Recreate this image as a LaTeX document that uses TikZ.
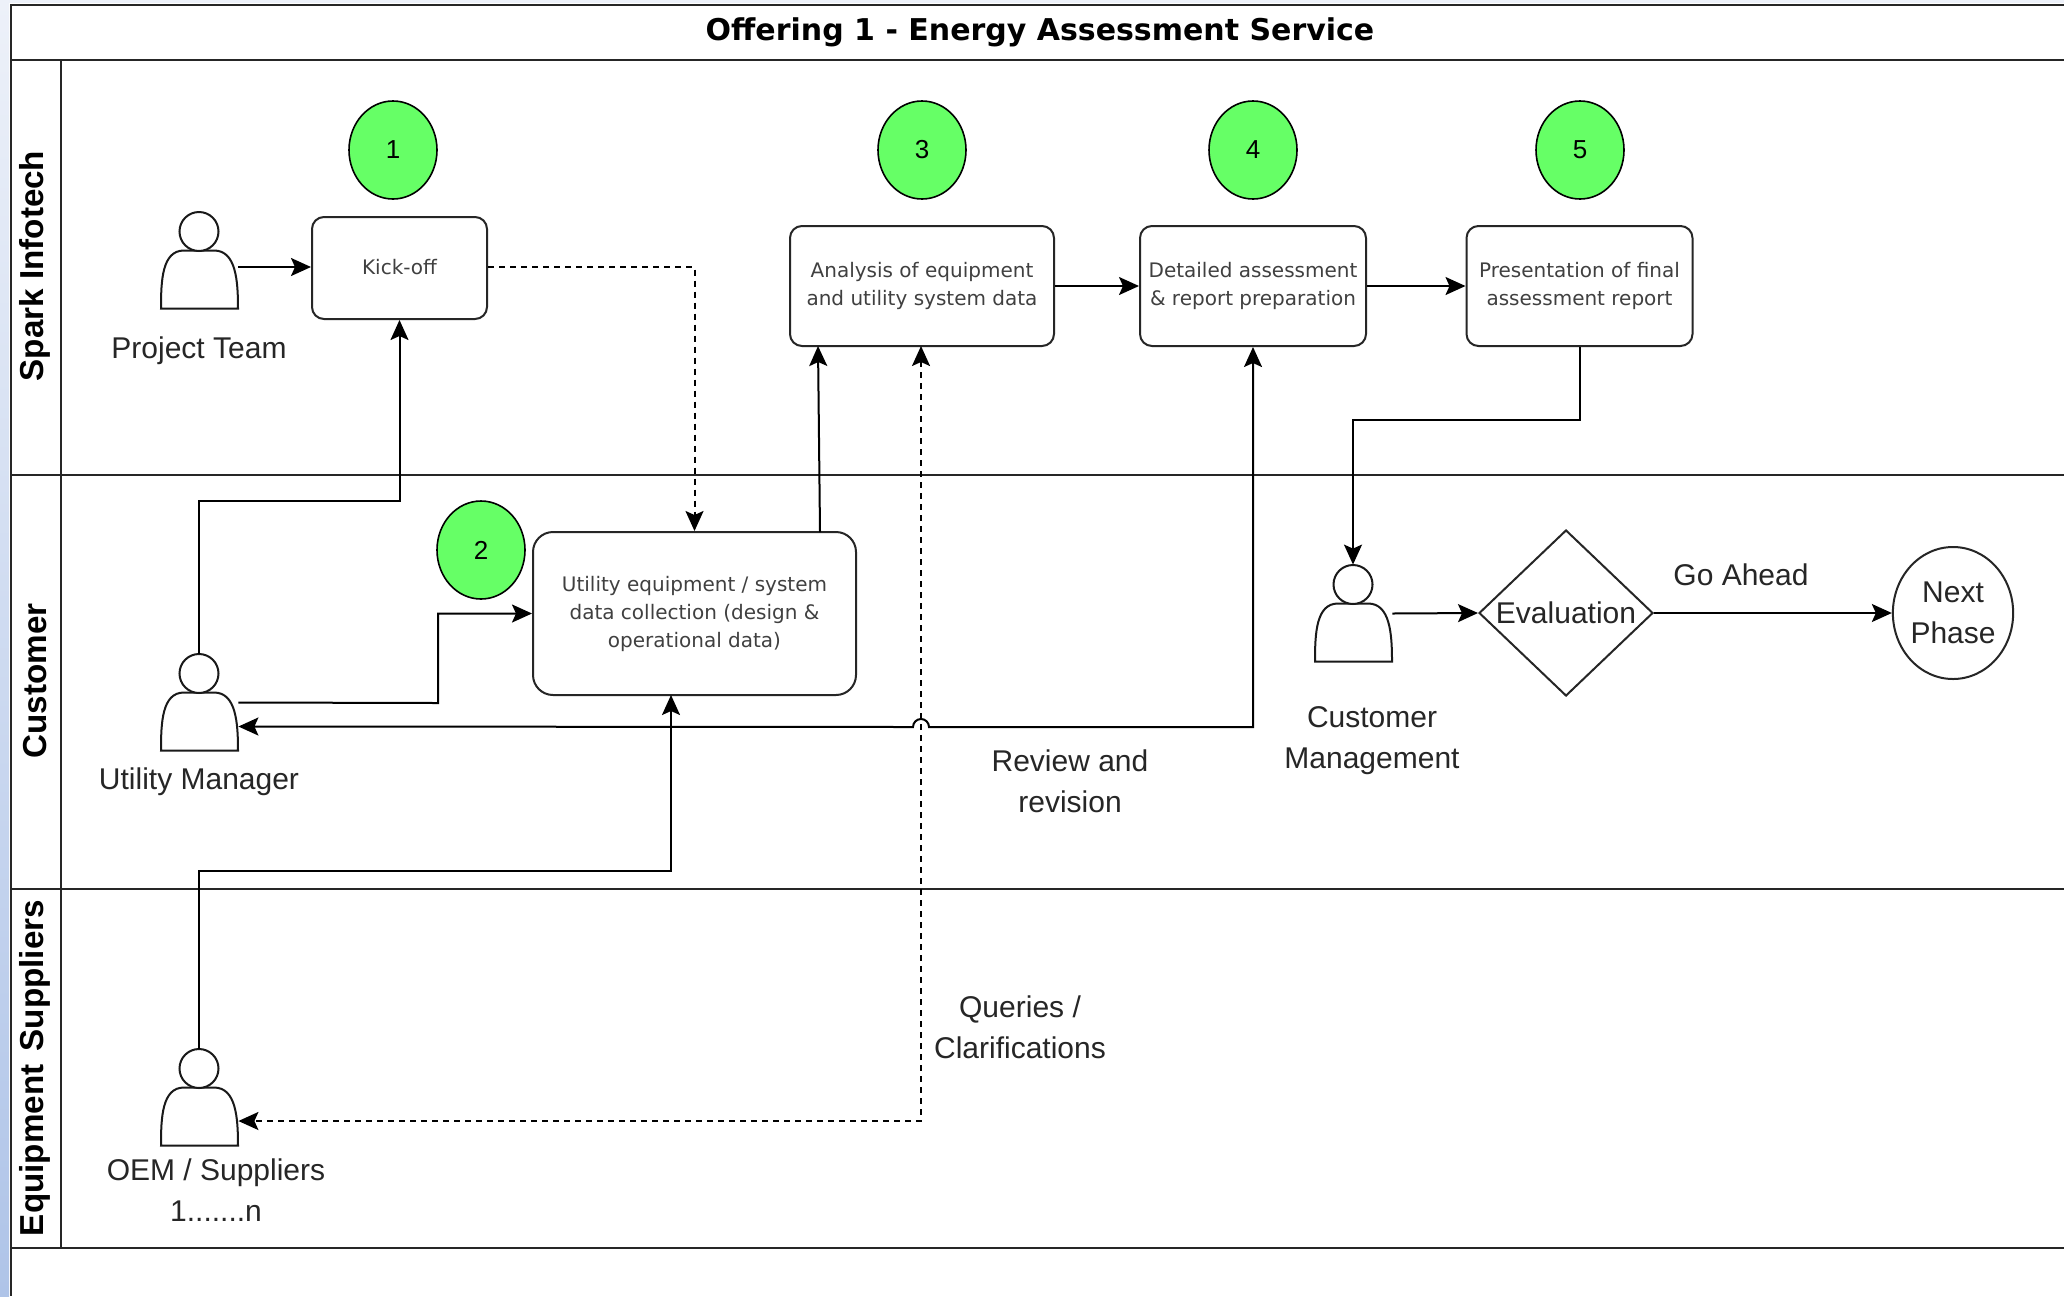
\documentclass[tikz,border=0pt]{standalone}
\usepackage{fontspec}
\setmainfont{Liberation Sans}
\newfontfamily\boxfont{DejaVu Sans}
\usetikzlibrary{positioning,arrows.meta,shapes.geometric}
\definecolor{stepgreen}{HTML}{66FF66}
\definecolor{stripetop}{HTML}{EDF1F9}
\definecolor{stripebottom}{HTML}{AFC4E8}
\tikzset{every picture/.style={x=0.5pt,y=-0.5pt},
        laneline/.style = {draw=black!85, line width=1pt},
        lanelabel/.style = {font=\fontsize{16.6}{18}\selectfont\bfseries, rotate=90, inner sep=0pt},
        titlelabel/.style = {font=\boxfont\fontsize{15}{18}\selectfont\bfseries, inner sep=0pt},
        task/.style = {draw=black!85, line width=1pt, fill=white, rounded corners=6pt, align=center,
                       font=\boxfont\fontsize{10}{14}\selectfont, text=black!75, inner sep=0pt},
        lowtext/.style = {execute at begin node={\vspace*{2pt}}},
        stepmark/.style = {draw=black, line width=0.8pt, fill=stepgreen, ellipse, minimum width=44pt,
                           minimum height=49pt, inner sep=0pt, font=\fontsize{13}{15}\selectfont},
        actorbox/.style = {minimum width=39pt, minimum height=48.5pt, inner sep=0pt},
        actorline/.style = {draw=black!90, line width=1pt, fill=white},
        caption/.style = {align=center, inner sep=0pt, text=black!85, font=\fontsize{15}{20.5}\selectfont},
        flow/.style = {draw=black, line width=1pt, -{Stealth[length=10pt,width=9pt,inset=2pt]}},
        twoway/.style = {flow, {Stealth[length=10pt,width=9pt,inset=2pt]}-{Stealth[length=10pt,width=9pt,inset=2pt]}},
        query/.style = {dashed, dash pattern=on 3pt off 2.5pt},
        }
\newcommand{\actor}[3]{%
    \node[actorbox] (#1) at (#2,#3) {};
    \begin{scope}[shift={(#2,#3)}]
        \draw[actorline] (-38,48) .. controls (-38,20) and (-37,-10) .. (-15,-10) -- (15,-10)
            .. controls (37,-10) and (39,20) .. (39,48) -- cycle;
        \draw[actorline] (0,-29) circle [radius=9.75pt];
    \end{scope}
}
\begin{document}
\begin{tikzpicture}
    \useasboundingbox (0,0) rectangle (2064,1296);
    \fill[white] (0,0) rectangle (2064,1296);
    \shade[top color=stripetop, bottom color=stripebottom] (0,0) rectangle (9,1296);
    \fill[stripetop] (0,0) rectangle (2064,3);

    \draw[laneline] (2064,5) -- (11,5) -- (11,1296);
    \draw[laneline] (11,60) -- (2064,60);
    \draw[laneline] (11,475) -- (2064,475);
    \draw[laneline] (11,889) -- (2064,889);
    \draw[laneline] (11,1248) -- (2064,1248);
    \draw[laneline] (61,60) -- (61,1248);

    \node[titlelabel] (title) at (1040,32) {Offering 1 - Energy Assessment Service};
    \node[lanelabel] (spark) at (35,266) {Spark Infotech};
    \node[lanelabel] (customer) at (35,681) {Customer};
    \node[lanelabel] (suppliers) at (35,1068) {Equipment\hspace{0.4em}Suppliers};

    \node[task, minimum width=175pt*0.5, minimum height=102pt*0.5] (kick) at (399.5,268) {\raisebox{1pt}{Kick-off}};
    \node[task, minimum width=323pt*0.5, minimum height=163pt*0.5, rounded corners=10pt] (collect) at (694.5,613.5)
        {Utility equipment / system\\data collection (design \&\\operational data)};
    \node[task, lowtext, minimum width=264pt*0.5, minimum height=120pt*0.5] (analysis) at (922,286)
        {Analysis of equipment\\and utility system data};
    \node[task, lowtext, minimum width=226pt*0.5, minimum height=120pt*0.5] (detail) at (1253,286)
        {Detailed assessment\\\& report preparation};
    \node[task, lowtext, minimum width=226pt*0.5, minimum height=120pt*0.5] (final) at (1579.5,286)
        {Presentation of final\\assessment report};

    \node[stepmark] (one) at (393,150) {1};
    \node[stepmark] (two) at (481,550) {2};
    \node[stepmark] (three) at (922,150) {3};
    \node[stepmark] (four) at (1253,150) {4};
    \node[stepmark] (five) at (1580,150) {5};

    \actor{team}{199}{260.5}
    \actor{manager}{199}{702.5}
    \actor{board}{1353}{613.5}
    \actor{oem}{199}{1097.5}

    \node[caption] (teamlabel) at (199,351) {Project Team};
    \node[caption] (managerlabel) at (199,782) {Utility Manager};
    \node[caption] (boardlabel) at (1372,741) {Customer\\Management};
    \node[caption] (oemlabel) at (216,1190) {OEM / Suppliers\\1.......n};
    \node[caption] (reviewlabel) at (1070,781) {Review and\\revision};
    \node[caption] (querylabel) at (1020,1027) {Queries /\\Clarifications};
    \node[caption] (golabel) at (1741,575) {Go Ahead};

    \node[draw=black!85, line width=1pt, diamond, aspect=1.05, minimum width=87pt, minimum height=83pt,
          inner sep=0pt, caption, draw] (eval) at (1566,613) {Evaluation};
    \node[draw=black!85, line width=1pt, ellipse, minimum width=60pt, minimum height=66pt,
          inner sep=0pt, caption, draw] (next) at (1953,613) {Next\\Phase};

    \draw[flow] ([yshift=-3.25pt]team.east) -- (kick.west |- 0,267);
    \draw[flow, query] (kick.east |- 0,267) -| (collect.north);
    \draw[flow] (manager.north) |- (399.5,501) -- (kick.south);
    \draw[flow] (manager.east) -- (438,703) |- (collect.west);
    \draw[flow] (820,532) -- (818,346);
    \draw[flow] (analysis) -- (detail);
    \draw[flow] (detail) -- (final);
    \draw[flow] (final.south) |- (1353,420) -- (board.north);
    \draw[twoway] (detail.south) -- (1253,727) -- (929,727) arc [start angle=0, end angle=180, radius=4pt]
        -- ([yshift=-12pt]manager.east);
    \draw[flow] (oem.north) |- (671,871) -- (671,695);
    \draw[twoway, query] (921,346) -- (921,1121) -- ([yshift=-11.75pt]oem.east);
    \draw[flow] (board.east) -- (eval.west);
    \draw[flow] (eval.east) -- (next.west);
\end{tikzpicture}
\end{document}
